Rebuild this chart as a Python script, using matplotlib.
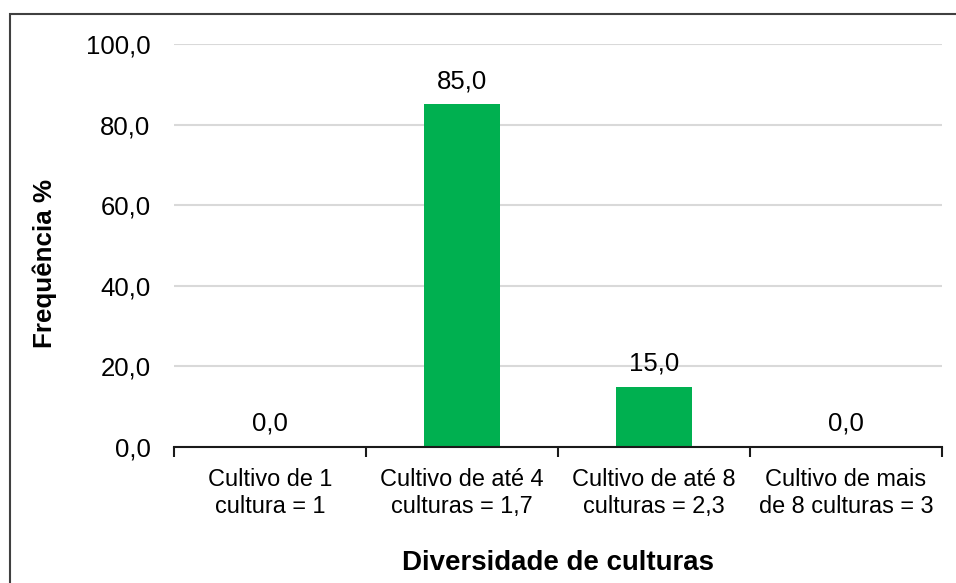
import numpy as np
import matplotlib
matplotlib.use('Agg')
from matplotlib import pyplot as plt
from matplotlib.patches import Rectangle
from matplotlib.ticker import FuncFormatter

plt.rcParams['font.family'] = ['Liberation Sans', 'DejaVu Sans']

# Data
categories = ['Cultivo de 1\ncultura = 1',
              'Cultivo de até 4\nculturas = 1,7',
              'Cultivo de até 8\nculturas = 2,3',
              'Cultivo de mais\nde 8 culturas = 3']
freq = [0.0, 85.0, 15.0, 0.0]
yticks = [0, 20, 40, 60, 80, 100]

fs = 18.5
fig = plt.figure(figsize=(9.56, 5.83), dpi=100)
ax = fig.add_axes([174 / 956, 136 / 583, 768 / 956, 403 / 583])

x = np.arange(len(categories))
ax.bar(x, freq, width=0.4, color='#00B050', zorder=3)

for xi, v in zip(x, freq):
    ax.annotate(f'{v:.1f}'.replace('.', ','), (xi, v), xytext=(0, 8),
                textcoords='offset points', ha='center', va='bottom', fontsize=fs)

ax.set_xlim(-0.5, len(categories) - 0.5)
ax.set_ylim(0, 100)
ax.set_yticks(yticks)
ax.yaxis.set_major_formatter(FuncFormatter(lambda v, p: f'{v:.1f}'.replace('.', ',')))
ax.tick_params(axis='y', length=0, pad=17, labelsize=fs)
ax.grid(axis='y', color='#D9D9D9', linewidth=1.5, zorder=0)

# category boundaries as ticks, labels at centres
ax.set_xticks(np.arange(len(categories) + 1) - 0.5)
ax.set_xticklabels([])
ax.tick_params(axis='x', which='major', length=7, width=1.5, color='#1a1a1a', direction='out')
ax.set_xticks(x, minor=True)
ax.set_xticklabels(categories, minor=True, fontsize=16.9, linespacing=1.22)
ax.tick_params(axis='x', which='minor', length=0, pad=15)

for s in ['top', 'right', 'left']:
    ax.spines[s].set_visible(False)
ax.spines['bottom'].set_color('#1a1a1a')
ax.spines['bottom'].set_linewidth(1.5)
ax.spines['bottom'].set_zorder(4)

ax.set_xlabel('Diversidade de culturas', fontsize=19.9, fontweight='bold', labelpad=23)
fig.text(45 / 956, 1 - 264 / 583, 'Frequência %', rotation=90, ha='center', va='center',
         fontsize=18.7, fontweight='bold')

# outer chart border
fig.patches.append(Rectangle((10 / 956, -0.1), 1.2, 0.1 + (583 - 14) / 583,
                             transform=fig.transFigure, fill=False,
                             edgecolor='#404040', linewidth=1.5))

fig.savefig('out.png', dpi=100)
